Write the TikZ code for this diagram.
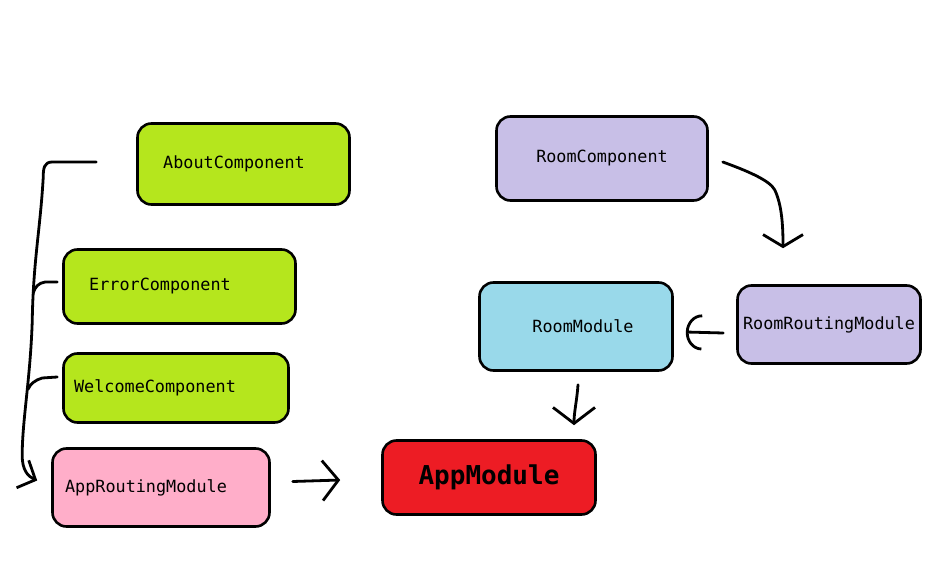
\documentclass[tikz,border=0pt]{standalone}
\usepackage{fontspec}
\setmonofont{DejaVu Sans Mono}
\usetikzlibrary{arrows.meta,calc}
\definecolor{lime}{HTML}{B5E61D}
\definecolor{pinkbox}{HTML}{FFAEC9}
\definecolor{redbox}{HTML}{ED1C24}
\definecolor{lavender}{HTML}{C8BFE7}
\definecolor{skyblue}{HTML}{99D9EA}
\tikzset{
  box/.style={draw=black, line width=2.6pt, rounded corners=14pt, inner sep=0pt,
    font=\ttfamily\fontsize{16.8}{20}\selectfont, text=black},
  hand/.style={draw=black, line width=2.8pt, line cap=round, line join=round},
}
\newcommand{\tsh}[1]{\hspace*{#1pt}}
\begin{document}
\begin{tikzpicture}[x=1pt,y=-1pt]
\path[fill=white,use as bounding box] (0,0) rectangle (941,561);

% boxes
\node[box, fill=lime, minimum width=212pt, minimum height=81pt] (about) at (243.5,164) {\tsh{-19}AboutComponent};
\node[box, fill=lime, minimum width=232pt, minimum height=74pt] (error) at (179.5,286.5) {\tsh{-39}ErrorComponent};
\node[box, fill=lime, minimum width=225pt, minimum height=69pt] (welcome) at (176,388) {\tsh{-42}WelcomeComponent};
\node[box, fill=pinkbox, minimum width=217pt, minimum height=78pt] (approuting) at (161,487.5) {\tsh{-30}AppRoutingModule};
\node[box, fill=redbox, minimum width=213pt, minimum height=74pt, font=\ttfamily\bfseries\fontsize{26}{30}\selectfont] (appmodule) at (489,477.5) {AppModule};
\node[box, fill=lavender, minimum width=211pt, minimum height=84pt] (roomcomp) at (602,158.5) {RoomComponent};
\node[box, fill=skyblue, minimum width=193pt, minimum height=88pt] (roommodule) at (576,326.5) {\tsh{14}RoomModule};
\node[box, fill=lavender, minimum width=183pt, minimum height=78pt] (roomrouting) at (829,324.5) {RoomRoutingModule};

% left bracket: components -> AppRoutingModule
\draw[hand, -{Straight Barb[length=14pt,width=30pt]}]
  ($(about.west)+(-40,-2)$) -- ($(about.west)+(-84,-2)$)
  .. controls ($(about.west)+(-92,-2)$) and ($(about.west)+(-93,4)$) .. ($(about.west)+(-93,14)$)
  .. controls ($(about.west)+(-96,66)$) and ($(error.west)+(-29,-26)$) .. ($(error.west)+(-30,36)$)
  .. controls ($(welcome.west)+(-32,-8)$) and ($(approuting.west)+(-29,-67)$) .. ($(approuting.west)+(-29,-32)$)
  .. controls ($(approuting.west)+(-29,-17)$) and ($(approuting.west)+(-23,-11)$) .. ($(approuting.west)+(-14,-7)$);
\draw[hand] ($(error.west)+(-5,-4.5)$) -- ($(error.west)+(-17,-4.5)$)
  .. controls ($(error.west)+(-24,-3.5)$) and ($(error.west)+(-27,0.5)$) .. ($(error.west)+(-29,6.5)$);
\draw[hand] ($(welcome.west)+(-5,-11)$) -- ($(welcome.west)+(-20,-10)$)
  .. controls ($(welcome.west)+(-27,-8)$) and ($(welcome.west)+(-32,-4)$) .. ($(welcome.west)+(-34,1)$);

% AppRoutingModule -> AppModule
\draw[hand, -{Straight Barb[length=16pt,width=40pt]}]
  ($(approuting.east)+(22,-6)$) -- ($(appmodule.west)+(-41,2.5)$);

% RoomComponent -> RoomRoutingModule
\draw[hand, -{Straight Barb[length=12pt,width=40pt]}]
  ($(roomcomp.east)+(14,3.5)$)
  .. controls ($(roomcomp.east)+(36,11.5)$) and ($(roomcomp.east)+(61,21.5)$) .. ($(roomcomp.east)+(66,31.5)$)
  .. controls ($(roomcomp.east)+(73,46.5)$) and ($(roomrouting.north)+(-46,-59)$) .. ($(roomrouting.north)+(-46,-36)$);

% RoomRoutingModule -> RoomModule
\draw[hand, -{Arc Barb[length=16pt,width=36pt]}]
  ($(roomrouting.west)+(-13,8.5)$) -- ($(roommodule.east)+(12,5.5)$);

% RoomModule -> AppModule
\draw[hand, -{Straight Barb[length=16pt,width=42pt]}]
  ($(roommodule.south)+(2,13)$)
  .. controls ($(roommodule.south)+(1,28)$) and ($(appmodule.north)+(85,-27)$) .. ($(appmodule.north)+(85,-14)$);
\end{tikzpicture}
\end{document}
